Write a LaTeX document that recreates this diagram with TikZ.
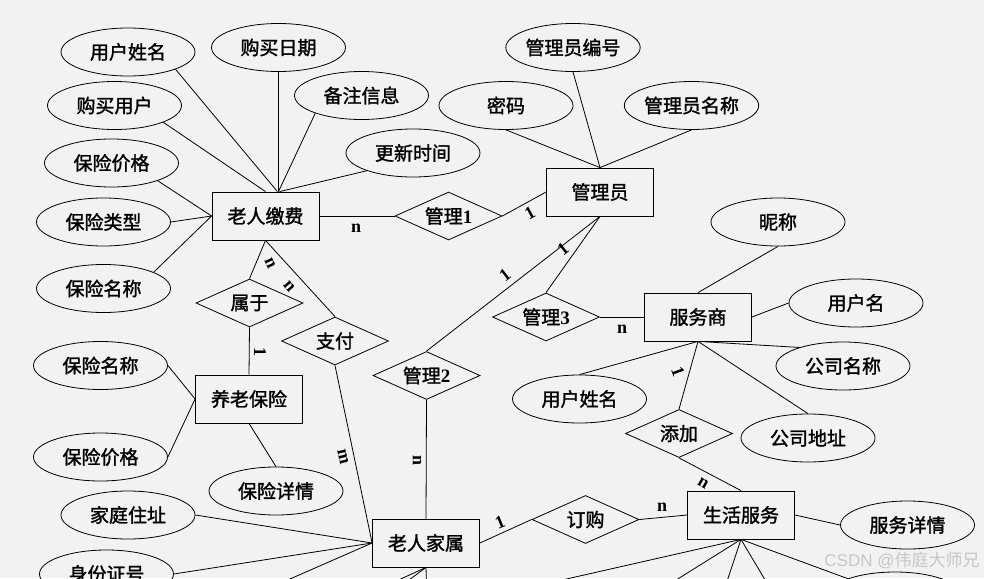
\documentclass[tikz,border=0pt]{standalone}
\usepackage{fontspec}
\setmainfont{Liberation Serif}
\newfontfamily\zh{Noto Sans CJK SC}[FakeBold=1.5]
\newfontfamily\wmzh{Noto Sans CJK SC}
\newfontfamily\wmlat{Liberation Sans}
\usetikzlibrary{shapes.geometric}
\definecolor{bgc}{HTML}{F2F2F2}
\definecolor{wmc}{HTML}{C6C6C6}
\begin{document}
\begin{tikzpicture}[x=1pt,y=-1pt,line width=0.8pt,
  txt/.style={font=\zh\fontsize{19}{19}\selectfont},
  ent/.style={txt,draw,rectangle,minimum width=107pt,minimum height=48pt,inner sep=0pt},
  rel/.style={txt,draw,diamond,aspect=2.23,minimum width=107pt,minimum height=48pt,inner sep=0pt},
  attr/.style={txt,draw,ellipse,minimum width=134pt,minimum height=48pt,inner sep=0pt},
  card/.style={font=\rmfamily\bfseries\fontsize{18}{18}\selectfont,inner sep=0pt},
  lnk/.style={draw,line width=0.8pt}]
\useasboundingbox (0,0) rectangle (984,578);
\fill[bgc] (0,0) rectangle (984,578);
\clip (0,0) rectangle (984,578);

% entities
\node[ent] (jf)   at (265.5,216) {老人缴费};
\node[ent] (gly)  at (600,192)   {管理员};
\node[ent] (ylbx) at (249,399)   {养老保险};
\node[ent] (lrjs) at (426,543)   {老人家属};
\node[ent] (fws)  at (698,317)   {服务商};
\node[ent] (shfw) at (741,515)   {生活服务};

% relationships
\node[rel] (gl1) at (448.5,216) {管理{\rmfamily\bfseries 1}};
\node[rel] (sy)  at (249.5,303) {属于};
\node[rel] (zf)  at (335,341)   {支付};
\node[rel] (gl2) at (426.5,375.5) {管理{\rmfamily\bfseries 2}};
\node[rel] (gl3) at (546,317)   {管理{\rmfamily\bfseries 3}};
\node[rel] (tj)  at (679,433.5) {添加};
\node[rel] (dg)  at (585.5,519.5) {订购};

% attributes
\node[attr] (a1) at (128,52)     {用户姓名};
\node[attr] (a2) at (278.5,47.5) {购买日期};
\node[attr] (a3) at (361.5,95.5) {备注信息};
\node[attr] (a4) at (114.5,105.5) {购买用户};
\node[attr] (a5) at (413,153)    {更新时间};
\node[attr] (a6) at (111.5,163)  {保险价格};
\node[attr] (a7) at (103.5,222)  {保险类型};
\node[attr] (a8) at (103.5,288.5) {保险名称};
\node[attr] (b1) at (573,47.5)   {管理员编号};
\node[attr] (b2) at (506,105.5)  {密码};
\node[attr] (b3) at (691.5,105.5) {管理员名称};
\node[attr] (c1) at (778,222)    {昵称};
\node[attr] (c2) at (856,303)    {用户名};
\node[attr] (c3) at (843,366)    {公司名称};
\node[attr] (c4) at (579.5,399)  {用户姓名};
\node[attr] (c5) at (808,438)    {公司地址};
\node[attr] (c6) at (907.5,525)  {服务详情};
\node[attr] (c7) at (895,596)    {};
\node[attr] (d1) at (100.5,365.5) {保险名称};
\node[attr] (d2) at (100.5,457)  {保险价格};
\node[attr] (d3) at (276,491)    {保险详情};
\node[attr] (e1) at (128,515)    {家庭住址};
\node[attr] (e2) at (106.5,574)  {身份证号};

% free ends of connectors leaving the picture
\coordinate (s1) at (399,617);
\coordinate (s2) at (617,617);
\coordinate (s3) at (715,617);
\coordinate (s4) at (787,617);
\coordinate (l1) at (355,600);
\coordinate (l2) at (382,600);
\coordinate (l3) at (427,600);
\coordinate (l4) at (210,614);

% connectors: 老人缴费
\draw[lnk] (a1.-20) -- (jf.64);
\draw[lnk] (a2.south) -- (jf.62);
\draw[lnk] (a3.201) -- (jf.62);
\draw[lnk] (a4.-19) -- (jf.north);
\draw[lnk] (a5.201) -- (jf.60);
\draw[lnk] (a6.-21) -- (jf.west);
\draw[lnk] (a7.east) -- (jf.west);
\draw[lnk] (a8.18) -- (jf.west);
\draw[lnk] (jf.east) -- (gl1.west);
\draw[lnk] (gl1.east) -- (gly.west);
\draw[lnk] (jf.south) -- (sy.north);
\draw[lnk] (jf.south) -- (zf.north);
\draw[lnk] (sy.south) -- (ylbx.north);
% 管理员
\draw[lnk] (b1.south) -- (gly.north);
\draw[lnk] (b2.south) -- (gly.north);
\draw[lnk] (b3.south) -- (gly.north);
\draw[lnk] (gly.south) -- (gl2.north);
\draw[lnk] (gly.south) -- (gl3.north);
\draw[lnk] (gl3.east) -- (fws.west);
% 养老保险
\draw[lnk] (d1.east) -- (ylbx.west);
\draw[lnk] (d2.east) -- (ylbx.west);
\draw[lnk] (ylbx.south) -- (d3.north);
% 老人家属
\draw[lnk] (zf.south) -- (lrjs.west);
\draw[lnk] (gl2.south) -- (lrjs.north);
\draw[lnk] (e1.east) -- (lrjs.west);
\draw[lnk] (e2.east) -- (lrjs.west);
\draw[lnk] (l4) -- (lrjs.west);
\draw[lnk] (lrjs.south) -- (l1);
\draw[lnk] (lrjs.south) -- (l2);
\draw[lnk] (lrjs.south) -- (l3);
\draw[lnk] (lrjs.east) -- (dg.west);
\draw[lnk] (dg.east) -- (shfw.west);
% 服务商
\draw[lnk] (c1.south) -- (fws.north);
\draw[lnk] (c2.west) -- (fws.east);
\draw[lnk] (fws.south) -- (c4.north);
\draw[lnk] (fws.south) -- (c3.157);
\draw[lnk] (fws.south) -- (c5.north);
\draw[lnk] (fws.south) -- (tj.north);
\draw[lnk] (tj.south) -- (shfw.north);
% 生活服务
\draw[lnk] (shfw.east) -- (c6.west);
\draw[lnk] (shfw.south) -- (s1);
\draw[lnk] (shfw.south) -- (s2);
\draw[lnk] (shfw.south) -- (s3);
\draw[lnk] (shfw.south) -- (s4);
\draw[lnk] (shfw.south) -- (c7);

% cardinalities
\node[card] (k1)  at (356,228) {n};
\node[card,rotate=29] (k2) at (530,213) {1};
\node[card,rotate=38] (k3) at (563,249) {1};
\node[card,rotate=38] (k4) at (505,275) {1};
\node[card,rotate=-65] (k5) at (270,263) {n};
\node[card,rotate=-49] (k6) at (289,286) {n};
\node[card,rotate=-90] (k7) at (260,352) {1};
\node[card,rotate=-77] (k8) at (343,457) {m};
\node[card,rotate=-90] (k9) at (417,460) {n};
\node[card] (k10) at (622,329) {n};
\node[card,rotate=-70] (k11) at (678,372) {1};
\node[card,rotate=-30] (k12) at (703,483) {n};
\node[card] (k13) at (662,507) {n};
\node[card,rotate=22] (k14) at (500,522) {1};

% watermark
\node[text=wmc,inner sep=0pt,anchor=east] (wm) at (980,560)
  {\fontsize{17}{17}\selectfont\wmlat CSDN @\wmzh 伟庭大师兄};
\end{tikzpicture}
\end{document}
